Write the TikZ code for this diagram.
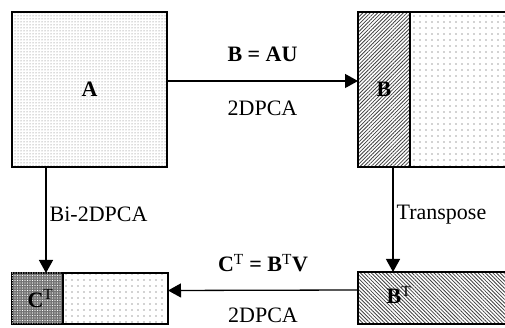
\documentclass[tikz,border=0pt]{standalone}
\usepackage{fontspec}
\setmainfont{Liberation Serif}
\usetikzlibrary{positioning,arrows.meta,patterns.meta}
\newcommand{\supT}{\textsuperscript{\normalfont T}}

\begin{document}
\begin{tikzpicture}[x=1pt,y=1pt,font=\fontsize{22}{26}\selectfont,
  >={Triangle[length=13pt,width=14pt]},
  blk/.style={draw,line width=1.4pt,outer sep=0pt,inner sep=0pt},
  fine/.style={blk,pattern={Dots[distance=3pt,radius=0.5pt]},pattern color=black!60},
  sparse/.style={blk,pattern={Dots[distance=6pt,radius=0.6pt]},pattern color=black!75},
  hatchr/.style={blk,pattern={Lines[angle=45,distance=2.6pt,line width=0.8pt]},pattern color=black!75},
  hatchl/.style={blk,pattern={Lines[angle=-45,distance=2.6pt,line width=0.8pt]},pattern color=black!75},
  dark/.style={blk,fill=black!55,postaction={pattern={Dots[distance=2.5pt,radius=0.6pt]},pattern color=white}},
  arr/.style={->,line width=1.3pt},
  lbl/.style={inner sep=2pt}]
  \useasboundingbox (0,0) rectangle (505,328);
  % matrices
  \node[fine,minimum width=155,minimum height=155] (A) at (89.5,238.5) {\textbf{A}};
  \node[hatchr,minimum width=52,minimum height=155] (Bl) at (384,238.5) {\textbf{B}};
  \node[sparse,right=0pt of Bl,minimum width=97,minimum height=155] (Br) {};
  \node[hatchl,minimum width=149,minimum height=52,anchor=north west] (BT) at (358,56) {};
  \node[lbl] (BTtxt) at (399,33) {\textbf{B}\supT};
  \node[dark,minimum width=51,minimum height=51] (Cl) at (37.5,29.5) {\hspace{6pt}\textbf{C}\supT};
  \node[sparse,right=0pt of Cl,minimum width=105,minimum height=51] (Cr) {};
  % connectors
  \draw[arr] ([yshift=8.5]A.east) --
     node[lbl,above=16.7pt]{\textbf{B = AU}}
     node[lbl,below=17.7pt]{2DPCA} ([yshift=8.5]Bl.west);
  \draw[arr] ([xshift=9]Bl.south) -- node[lbl,pos=0.45,right=1pt]{Transpose}
     ([xshift=9]Bl.south |- BT.north);
  \draw[arr] ([yshift=8]BT.west) --
     node[lbl,above=15.7pt]{\textbf{C\supT{} = B\supT V}}
     node[lbl,below=15.5pt]{2DPCA} ([yshift=8]Cr.east);
  \draw[arr] ([xshift=-43.5]A.south) -- node[lbl,pos=0.45,right=1pt]{Bi-2DPCA}
     ([xshift=-43.5]A.south |- Cl.north);
\end{tikzpicture}
\end{document}
